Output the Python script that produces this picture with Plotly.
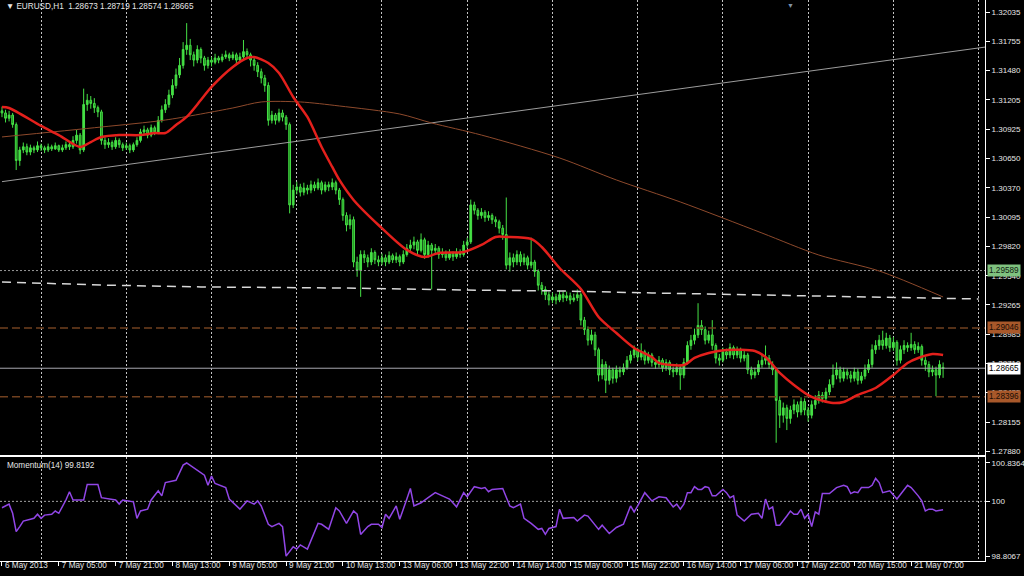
import plotly.graph_objects as go

# ---------------- data (EURUSD H1) ----------------
opens = [
 1.3110,1.3108,1.3103,1.3106,1.3097,1.3063,1.3073,1.3076,1.3071,1.3075,
 1.3073,1.3077,1.3075,1.3073,1.3076,1.3074,1.3077,1.3073,1.3075,1.3078,
 1.3076,1.3082,1.3087,1.3073,1.3116,1.3120,1.3117,1.3113,1.3109,1.3082,
 1.3078,1.3080,1.3076,1.3082,1.3078,1.3075,1.3077,1.3073,1.3078,1.3082,
 1.3090,1.3092,1.3087,1.3094,1.3090,1.3101,1.3111,1.3116,1.3125,1.3134,
 1.3144,1.3153,1.3168,1.3172,1.3163,1.3158,1.3168,1.3160,1.3153,1.3158,
 1.3156,1.3160,1.3158,1.3161,1.3163,1.3160,1.3163,1.3158,1.3161,1.3166,
 1.3163,1.3158,1.3153,1.3147,1.3141,1.3134,1.3101,1.3106,1.3101,1.3108,
 1.3104,1.3097,1.3021,1.3035,1.3038,1.3033,1.3037,1.3035,1.3040,1.3037,
 1.3042,1.3035,1.3040,1.3038,1.3042,1.3035,1.3026,1.3011,1.3002,1.3007,
 1.2967,1.2959,1.2974,1.2971,1.2967,1.2976,1.2969,1.2967,1.2971,1.2967,
 1.2973,1.2969,1.2972,1.2967,1.2974,1.2980,1.2983,1.2986,1.2978,1.2988,
 1.2974,1.2983,1.2978,1.2980,1.2974,1.2976,1.2971,1.2975,1.2972,1.2976,
 1.2974,1.2983,1.2986,1.3021,1.3016,1.3011,1.3014,1.3009,1.3011,1.3007,
 1.3005,1.2999,1.2993,1.2964,1.2971,1.2967,1.2974,1.2967,1.2971,1.2964,
 1.2967,1.2958,1.2945,1.2941,1.2936,1.2931,1.2934,1.2931,1.2936,1.2933,
 1.2935,1.2931,1.2933,1.2936,1.2912,1.2903,1.2893,1.2898,1.2884,1.2860,
 1.2870,1.2855,1.2865,1.2857,1.2865,1.2863,1.2867,1.2874,1.2879,1.2884,
 1.2877,1.2882,1.2874,1.2879,1.2872,1.2870,1.2874,1.2867,1.2872,1.2865,
 1.2863,1.2867,1.2860,1.2872,1.2888,1.2893,1.2898,1.2907,1.2903,1.2893,
 1.2898,1.2888,1.2876,1.2874,1.2882,1.2879,1.2886,1.2879,1.2884,1.2876,
 1.2879,1.2865,1.2860,1.2863,1.2870,1.2874,1.2876,1.2870,1.2865,1.2836,
 1.2822,1.2829,1.2819,1.2827,1.2832,1.2825,1.2835,1.2827,1.2822,1.2832,
 1.2836,1.2841,1.2838,1.2844,1.2851,1.2860,1.2865,1.2857,1.2863,1.2860,
 1.2857,1.2863,1.2855,1.2859,1.2865,1.2870,1.2884,1.2888,1.2893,1.2888,
 1.2895,1.2886,1.2891,1.2874,1.2884,1.2888,1.2886,1.2889,1.2884,1.2887,
 1.2874,1.2870,1.2863,1.2865,1.2860,1.28673]

highs = [
 1.3114,1.3111,1.3110,1.3108,1.3099,1.3076,1.3080,1.3079,1.3078,1.3077,
 1.3081,1.3079,1.3077,1.3079,1.3078,1.3080,1.3078,1.3078,1.3081,1.3080,
 1.3086,1.3092,1.3089,1.3131,1.3126,1.3124,1.3122,1.3115,1.3111,1.3085,
 1.3084,1.3082,1.3085,1.3084,1.3080,1.3080,1.3079,1.3080,1.3085,1.3093,
 1.3096,1.3094,1.3097,1.3096,1.3105,1.3115,1.3121,1.3130,1.3140,1.3150,
 1.3160,1.3175,1.3193,1.3178,1.3166,1.3172,1.3170,1.3162,1.3161,1.3161,
 1.3164,1.3162,1.3164,1.3167,1.3165,1.3166,1.3165,1.3165,1.3177,1.3169,
 1.3165,1.3160,1.3156,1.3150,1.3144,1.3137,1.3110,1.3108,1.3112,1.3111,
 1.3106,1.3099,1.3040,1.3043,1.3041,1.3042,1.3040,1.3044,1.3043,1.3046,
 1.3044,1.3043,1.3043,1.3046,1.3044,1.3037,1.3028,1.3014,1.3012,1.3010,
 1.2972,1.2978,1.2978,1.2974,1.2980,1.2978,1.2973,1.2975,1.2974,1.2977,
 1.2975,1.2976,1.2974,1.2978,1.2984,1.2988,1.2991,1.2988,1.2994,1.2990,
 1.2987,1.2985,1.2984,1.2982,1.2980,1.2978,1.2979,1.2977,1.2980,1.2979,
 1.2987,1.2990,1.3026,1.3024,1.3018,1.3018,1.3016,1.3015,1.3013,1.3010,
 1.3007,1.3002,1.3028,1.2976,1.2975,1.2978,1.2977,1.2975,1.2973,1.2990,
 1.2969,1.2960,1.2948,1.2944,1.2939,1.2938,1.2937,1.2940,1.2939,1.2939,
 1.2938,1.2937,1.2941,1.2938,1.2915,1.2906,1.2903,1.2901,1.2886,1.2875,
 1.2873,1.2869,1.2867,1.2869,1.2868,1.2871,1.2878,1.2883,1.2888,1.2886,
 1.2890,1.2884,1.2882,1.2881,1.2875,1.2878,1.2876,1.2875,1.2874,1.2868,
 1.2871,1.2869,1.2876,1.2892,1.2898,1.2904,1.2928,1.2912,1.2906,1.2902,
 1.2912,1.2890,1.2880,1.2886,1.2885,1.2890,1.2888,1.2887,1.2886,1.2883,
 1.2881,1.2868,1.2867,1.2874,1.2879,1.2888,1.2879,1.2873,1.2867,1.2840,
 1.2834,1.2832,1.2831,1.2837,1.2835,1.2839,1.2838,1.2830,1.2836,1.2841,
 1.2845,1.2844,1.2848,1.2856,1.2870,1.2872,1.2868,1.2867,1.2866,1.2864,
 1.2867,1.2866,1.2863,1.2870,1.2875,1.2889,1.2893,1.2898,1.2902,1.2900,
 1.2898,1.2896,1.2893,1.2888,1.2893,1.2891,1.2900,1.2892,1.2891,1.2889,
 1.2877,1.2873,1.2869,1.2868,1.2874,1.28719]

lows = [
 1.3104,1.3099,1.3100,1.3094,1.3054,1.3058,1.3070,1.3068,1.3068,1.3070,
 1.3071,1.3072,1.3070,1.3071,1.3072,1.3073,1.3071,1.3071,1.3073,1.3073,
 1.3074,1.3079,1.3069,1.3071,1.3110,1.3112,1.3108,1.3104,1.3078,1.3074,
 1.3075,1.3073,1.3074,1.3075,1.3072,1.3073,1.3070,1.3071,1.3076,1.3080,
 1.3087,1.3084,1.3085,1.3087,1.3088,1.3099,1.3108,1.3113,1.3122,1.3131,
 1.3141,1.3150,1.3163,1.3158,1.3152,1.3155,1.3155,1.3148,1.3150,1.3152,
 1.3154,1.3155,1.3156,1.3159,1.3157,1.3158,1.3155,1.3156,1.3159,1.3159,
 1.3152,1.3148,1.3142,1.3136,1.3128,1.3096,1.3098,1.3097,1.3099,1.3100,
 1.3092,1.3013,1.3018,1.3031,1.3029,1.3030,1.3031,1.3032,1.3034,1.3035,
 1.3031,1.3033,1.3034,1.3035,1.3031,1.3021,1.3006,1.2996,1.2998,1.2962,
 1.2953,1.2934,1.2966,1.2962,1.2964,1.2965,1.2963,1.2964,1.2963,1.2965,
 1.2966,1.2966,1.2963,1.2965,1.2972,1.2977,1.2979,1.2974,1.2976,1.2970,
 1.2971,1.2941,1.2975,1.2970,1.2971,1.2968,1.2969,1.2968,1.2970,1.2971,
 1.2972,1.2980,1.2984,1.3012,1.3007,1.3008,1.3005,1.3006,1.3003,1.3000,
 1.2994,1.2988,1.2960,1.2958,1.2962,1.2964,1.2963,1.2964,1.2960,1.2961,
 1.2953,1.2940,1.2936,1.2931,1.2926,1.2928,1.2927,1.2929,1.2929,1.2930,
 1.2927,1.2929,1.2930,1.2907,1.2898,1.2888,1.2889,1.2878,1.2854,1.2856,
 1.2843,1.2851,1.2852,1.2853,1.2858,1.2860,1.2865,1.2871,1.2876,1.2873,
 1.2874,1.2870,1.2871,1.2868,1.2866,1.2867,1.2863,1.2864,1.2860,1.2858,
 1.2860,1.2846,1.2857,1.2870,1.2884,1.2889,1.2895,1.2898,1.2889,1.2890,
 1.2884,1.2871,1.2869,1.2872,1.2875,1.2876,1.2875,1.2876,1.2872,1.2873,
 1.2861,1.2856,1.2857,1.2860,1.2867,1.2870,1.2866,1.2860,1.2796,1.2810,
 1.2815,1.2808,1.2814,1.2823,1.2820,1.2822,1.2822,1.2816,1.2819,1.2828,
 1.2833,1.2834,1.2835,1.2841,1.2848,1.2856,1.2853,1.2854,1.2856,1.2853,
 1.2854,1.2851,1.2852,1.2856,1.2862,1.2867,1.2880,1.2884,1.2884,1.2885,
 1.2882,1.2883,1.2869,1.2871,1.2880,1.2882,1.2883,1.2880,1.2881,1.2869,
 1.2864,1.2858,1.2859,1.2840,1.2857,1.28574]

closes = [
 1.3108,1.3103,1.3106,1.3097,1.3063,1.3073,1.3076,1.3071,1.3075,1.3073,
 1.3077,1.3075,1.3073,1.3076,1.3074,1.3077,1.3073,1.3075,1.3078,1.3076,
 1.3082,1.3087,1.3073,1.3116,1.3120,1.3117,1.3113,1.3109,1.3082,1.3078,
 1.3080,1.3076,1.3082,1.3078,1.3075,1.3077,1.3073,1.3078,1.3082,1.3090,
 1.3092,1.3087,1.3094,1.3090,1.3101,1.3111,1.3116,1.3125,1.3134,1.3144,
 1.3153,1.3168,1.3172,1.3163,1.3158,1.3168,1.3160,1.3153,1.3158,1.3156,
 1.3160,1.3158,1.3161,1.3163,1.3160,1.3163,1.3158,1.3161,1.3166,1.3163,
 1.3158,1.3153,1.3147,1.3141,1.3134,1.3101,1.3106,1.3101,1.3108,1.3104,
 1.3097,1.3021,1.3035,1.3038,1.3033,1.3037,1.3035,1.3040,1.3037,1.3042,
 1.3035,1.3040,1.3038,1.3042,1.3035,1.3026,1.3011,1.3002,1.3007,1.2967,
 1.2959,1.2974,1.2971,1.2967,1.2976,1.2969,1.2967,1.2971,1.2967,1.2973,
 1.2969,1.2972,1.2967,1.2974,1.2980,1.2983,1.2986,1.2978,1.2988,1.2974,
 1.2983,1.2978,1.2980,1.2974,1.2976,1.2971,1.2975,1.2972,1.2976,1.2974,
 1.2983,1.2986,1.3021,1.3016,1.3011,1.3014,1.3009,1.3011,1.3007,1.3005,
 1.2999,1.2993,1.2964,1.2971,1.2967,1.2974,1.2967,1.2971,1.2964,1.2967,
 1.2958,1.2945,1.2941,1.2936,1.2931,1.2934,1.2931,1.2936,1.2933,1.2935,
 1.2931,1.2933,1.2936,1.2912,1.2903,1.2893,1.2898,1.2884,1.2860,1.2870,
 1.2855,1.2865,1.2857,1.2865,1.2863,1.2867,1.2874,1.2879,1.2884,1.2877,
 1.2882,1.2874,1.2879,1.2872,1.2870,1.2874,1.2867,1.2872,1.2865,1.2863,
 1.2867,1.2860,1.2872,1.2888,1.2893,1.2898,1.2907,1.2903,1.2893,1.2898,
 1.2888,1.2876,1.2874,1.2882,1.2879,1.2886,1.2879,1.2884,1.2876,1.2879,
 1.2865,1.2860,1.2863,1.2870,1.2874,1.2876,1.2870,1.2865,1.2836,1.2822,
 1.2829,1.2819,1.2827,1.2832,1.2825,1.2835,1.2827,1.2822,1.2832,1.2836,
 1.2841,1.2838,1.2844,1.2851,1.2860,1.2865,1.2857,1.2863,1.2860,1.2857,
 1.2863,1.2855,1.2859,1.2865,1.2870,1.2884,1.2888,1.2893,1.2888,1.2895,
 1.2886,1.2891,1.2874,1.2884,1.2888,1.2886,1.2889,1.2884,1.2887,1.2874,
 1.2870,1.2863,1.2865,1.2860,1.2870,1.28665]

# fast moving average (red), sampled points: bar index / price
ma_fast_bar = [0,2,11,16,22,25,28,33,39,43,46,49,52,56,59,65,69,71,75,78,82,86,90,93,95,99,
               106,114,119,123,130,135,139,142,149,152,157,163,168,173,178,183,185,192,195,
               199,204,212,215,219,223,228,234,237,241,246,251,255,258,262,265]
ma_fast_val = [1.31136,1.31127,1.30957,1.30871,1.30758,1.30805,1.30852,1.30871,1.30871,1.30890,
               1.30890,1.30966,1.31042,1.31202,1.31326,1.31515,1.31600,1.31609,1.31552,1.31458,
               1.31231,1.31042,1.30758,1.30569,1.30446,1.30257,1.30020,1.29784,1.29717,1.29755,
               1.29765,1.29831,1.29907,1.29907,1.29888,1.29812,1.29613,1.29415,1.29150,1.28998,
               1.28857,1.28771,1.28715,1.28696,1.28762,1.28809,1.28838,1.28828,1.28771,1.28620,
               1.28507,1.28393,1.28336,1.28346,1.28412,1.28478,1.28601,1.28715,1.28762,1.28800,
               1.28790]

# slow moving average (brown)
ma_slow_bar = [0,28,46,65,73,84,95,112,121,135,157,173,191,214,230,247,265]
ma_slow_val = [1.30853,1.30947,1.31013,1.31127,1.31184,1.31184,1.31146,1.31070,1.30985,
               1.30871,1.30654,1.30446,1.30238,1.29944,1.29736,1.29585,1.29339]

# white dashed line
dash_bar = [0,28,56,95,129,157,183,214,247,275]
dash_val = [1.29481,1.29452,1.29434,1.29424,1.29405,1.29396,1.29377,1.29358,1.29339,1.29320]

# trend line (two anchor points)
trend_bar = [0, 277]
trend_val = [1.30430, 1.31704]

# horizontal price levels
level_green = 1.29589
level_brown = [1.29046, 1.28396]
level_bid = 1.28665

# Momentum(14)
mom_bar = [0,1,2,3,4,5,6,8,9,10,11,12,14,15,16,18,19,20,23,24,27,28,32,33,34,37,38,39,41,42,
           44,45,46,49,51,52,54,56,57,58,59,60,63,64,67,69,71,72,73,75,76,78,79,80,82,83,84,86,
           87,89,90,92,94,95,97,99,100,101,103,104,106,107,108,109,111,112,114,115,116,118,120,
           122,124,126,128,129,130,131,133,135,136,137,138,141,143,144,146,147,149,151,152,153,
           154,156,157,158,161,162,164,165,168,169,171,173,175,177,178,179,181,183,185,187,189,
           190,191,192,193,194,195,196,197,198,199,200,201,203,204,205,206,207,209,211,213,214,
           215,216,217,218,219,221,222,223,224,225,226,227,228,229,230,231,233,235,237,238,239,
           240,241,242,244,245,246,247,248,250,252,255,256,258,259,260,261,262,263,265]
mom_val = [99.86,99.90,99.94,99.74,99.34,99.45,99.57,99.61,99.63,99.72,99.63,99.70,99.72,99.79,
           99.74,100.03,100.21,100.03,100.03,100.37,100.37,100.08,100.03,99.94,100.03,99.99,99.63,
           99.79,99.83,100.03,100.23,100.12,100.41,100.46,100.79,100.8364,100.73,100.64,100.57,
           100.35,100.55,100.39,100.30,100.05,99.83,100.01,99.94,100.01,99.90,99.50,99.45,99.52,
           99.45,98.8067,99.01,98.96,99.05,98.96,99.16,99.52,99.50,99.39,99.86,99.79,99.52,99.79,
           99.72,99.28,99.45,99.50,99.50,99.43,99.72,99.63,99.90,99.61,100.05,100.28,99.90,99.97,
           100.08,100.19,100.12,100.05,99.88,100.05,100.19,100.10,100.32,100.28,100.30,100.21,
           100.26,100.28,99.90,99.86,99.94,99.63,99.52,99.39,99.41,99.28,99.41,99.45,99.83,99.63,
           99.65,99.57,99.70,99.68,99.39,99.48,99.30,99.43,99.50,99.90,99.77,99.90,100.19,100.01,
           100.10,100.08,99.88,99.94,99.83,99.94,100.19,100.19,100.32,100.26,100.26,100.32,100.30,
           100.12,100.12,100.26,100.19,100.08,100.12,99.70,99.57,99.72,99.74,99.63,100.05,99.83,
           99.88,99.48,99.48,99.68,99.79,99.72,99.72,99.83,99.63,99.72,99.45,99.77,99.72,100.17,
           100.17,100.30,100.35,100.32,100.17,100.21,100.19,100.30,100.30,100.35,100.50,100.41,
           100.19,100.23,100.05,100.35,100.30,100.12,100.01,99.79,99.83,99.83,99.79,99.8192]
mom_level = 100

# axes labels
price_ticks = [1.32035,1.31755,1.31480,1.31205,1.30925,1.30650,1.30370,1.30095,1.29820,
               1.29540,1.29265,1.28985,1.28710,1.28435,1.28155,1.27880]
mom_ticks = [98.8067, 100, 100.8364]
mom_tick_text = ["98.8067", "100", "100.8364"]
time_label_bar = [0,16,32,48,64,80,96,112,128,144,160,176,192,208,224,240,256]
time_label_text = ["6 May 2013","7 May 05:00","7 May 21:00","8 May 13:00","9 May 05:00",
                   "9 May 21:00","10 May 13:00","13 May 06:00","13 May 22:00","14 May 14:00",
                   "15 May 06:00","15 May 22:00","16 May 14:00","17 May 06:00","17 May 22:00",
                   "20 May 15:00","21 May 07:00"]
title_text = "EURUSD,H1\u00a0\u00a01.28673 1.28719 1.28574 1.28665"
mom_title = "Momentum(14) 99.8192"

# ---------------- figure ----------------
FONT = "Liberation Sans, Arial, sans-serif"
TXT = "#e6e6e6"
FS = 8.2
bars = list(range(len(closes)))
x_range = [-0.56, 276.8]
grid_bars = list(range(11, 277, 24))

fig = go.Figure()

def hline(y, color, width, dash, xa, ya):
    fig.add_trace(go.Scatter(x=x_range, y=[y, y], mode="lines",
                             line=dict(color=color, width=width, dash=dash),
                             xaxis=xa, yaxis=ya, showlegend=False, hoverinfo="skip"))

# horizontal levels drawn first (behind the candles)
hline(level_green, "#9a9a9a", 1, "2px,2px", "x", "y")
for lv in level_brown:
    hline(lv, "#70401f", 1.5, "8px,4px", "x", "y")
hline(level_bid, "#a8a8b0", 1, "solid", "x", "y")

fig.add_trace(go.Candlestick(
    x=bars, open=opens, high=highs, low=lows, close=closes,
    increasing=dict(line=dict(color="#45e045", width=1), fillcolor="#45e045"),
    decreasing=dict(line=dict(color="#45e045", width=1), fillcolor="#1d8a1d"),
    whiskerwidth=0, xaxis="x", yaxis="y", showlegend=False, hoverinfo="skip"))

fig.add_trace(go.Scatter(x=trend_bar, y=trend_val, mode="lines",
                         line=dict(color="#9c9c9c", width=1), xaxis="x", yaxis="y",
                         showlegend=False, hoverinfo="skip"))
fig.add_trace(go.Scatter(x=dash_bar, y=dash_val, mode="lines",
                         line=dict(color="#d8d8d8", width=1.5, dash="9px,6px"),
                         xaxis="x", yaxis="y", showlegend=False, hoverinfo="skip"))
fig.add_trace(go.Scatter(x=ma_slow_bar, y=ma_slow_val, mode="lines",
                         line=dict(color="#8e4a2c", width=1, shape="spline", smoothing=0.8),
                         xaxis="x", yaxis="y", showlegend=False, hoverinfo="skip"))
fig.add_trace(go.Scatter(x=ma_fast_bar, y=ma_fast_val, mode="lines",
                         line=dict(color="#e4201c", width=2.5, shape="spline", smoothing=0.8),
                         xaxis="x", yaxis="y", showlegend=False, hoverinfo="skip"))

hline(mom_level, "#a0a0a0", 1, "2px,2px", "x2", "y2")
fig.add_trace(go.Scatter(x=mom_bar, y=mom_val, mode="lines",
                         line=dict(color="#9146e6", width=1.5),
                         xaxis="x2", yaxis="y2", showlegend=False, hoverinfo="skip"))

annotations = [
    dict(text="\u25bc " + title_text, xref="paper", yref="paper", x=0.004, y=1 - 7 / 561,
         xanchor="left", yanchor="middle", showarrow=False, font=dict(family=FONT, size=FS, color=TXT)),
    dict(text=mom_title, xref="paper", yref="paper", x=0.005, y=(561 - 465) / 561,
         xanchor="left", yanchor="middle", showarrow=False, font=dict(family=FONT, size=FS, color=TXT)),
    # chart-shift marker at the top edge
    dict(text="\u25bc", xref="paper", yref="paper", x=790 / 985, y=1, xanchor="center",
         yanchor="top", showarrow=False, font=dict(family=FONT, size=7, color="#7f93a8")),
]
for val, bg, fg in [(level_green, "#7fc27f", "#102010"),
                    (level_brown[0], "#a8582a", "#1a0d05"),
                    (level_bid, "#ffffff", "#000000"),
                    (level_brown[1], "#a8582a", "#1a0d05")]:
    annotations.append(dict(text=f"{val:.5f}", xref="paper", yref="y", x=1.002, y=val,
                            xanchor="left", yanchor="middle", showarrow=False, bgcolor=bg,
                            borderpad=1, font=dict(family=FONT, size=FS, color=fg)))

frame = dict(zeroline=False, showline=True, linecolor="#ffffff", linewidth=1, mirror=True,
             range=x_range, fixedrange=True)
grid_minor = dict(tickmode="array", tickvals=grid_bars, showgrid=True, gridcolor="#c4c4c4",
                  gridwidth=1, griddash="2px,2px", ticks="")

fig.update_layout(
    width=1024, height=576, autosize=False,
    paper_bgcolor="#000000", plot_bgcolor="#000000",
    margin=dict(l=0, r=39, t=0, b=15, autoexpand=False),
    showlegend=False, hovermode=False,
    font=dict(family=FONT, size=FS, color=TXT),
    xaxis=dict(domain=[0, 1], anchor="y", rangeslider=dict(visible=False),
               tickmode="array", tickvals=grid_bars, showticklabels=False, ticks="",
               showgrid=True, gridcolor="#c4c4c4", gridwidth=1, griddash="2px,2px", **frame),
    xaxis2=dict(domain=[0, 1], anchor="y2", tickmode="array", tickvals=time_label_bar,
                ticktext=time_label_text, ticks="outside", ticklen=4, tickcolor="#ffffff",
                ticklabelposition="outside right", tickangle=0, ticklabelstandoff=-4,
                ticklabelshift=2, showgrid=False, minor=grid_minor,
                tickfont=dict(family=FONT, size=FS, color=TXT), **frame),
    yaxis=dict(domain=[(561 - 455) / 561, 1], anchor="x", side="right",
               range=[1.27844, 1.321485], tickmode="array", tickvals=price_ticks,
               ticktext=[f"{v:.5f}" for v in price_ticks], ticks="outside", ticklen=4,
               tickcolor="#ffffff", showgrid=False, zeroline=False, showline=True,
               linecolor="#ffffff", linewidth=1, mirror=True, fixedrange=True,
               tickfont=dict(family=FONT, size=8, color=TXT)),
    yaxis2=dict(domain=[0, (561 - 457) / 561], anchor="x2", side="right",
                range=[98.70, 100.967], tickmode="array", tickvals=mom_ticks,
                ticktext=mom_tick_text, ticks="outside", ticklen=4, tickcolor="#ffffff",
                showgrid=False, zeroline=False, showline=True, linecolor="#ffffff",
                linewidth=1, mirror=True, fixedrange=True,
                tickfont=dict(family=FONT, size=8, color=TXT)),
    annotations=annotations,
)

fig.write_html("out.html", config={"displayModeBar": False},
               post_script="document.body.style.margin='0';document.body.style.overflow='hidden';")
